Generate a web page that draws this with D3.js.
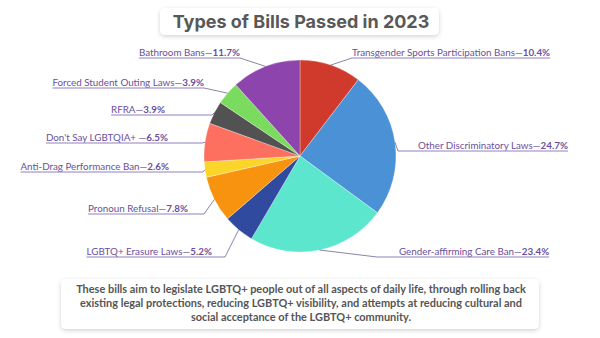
<!DOCTYPE html>
<html>
<head>
<meta charset="utf-8">
<script src="https://cdn.jsdelivr.net/npm/d3@7"></script>
<style>
  html, body { margin: 0; padding: 0; background: #fff; }
  svg { display: block; }
</style>
</head>
<body>
<svg id="chart" width="600" height="338"></svg>
<script>
// ---- data ----
const categories = [
  "Transgender Sports Participation Bans",
  "Other Discriminatory Laws",
  "Gender-affirming Care Ban",
  "LGBTQ+ Erasure Laws",
  "Pronoun Refusal",
  "Anti-Drag Performance Ban",
  "Don't Say LGBTQIA+ ",
  "RFRA",
  "Forced Student Outing Laws",
  "Bathroom Bans"
];
const values = [10.4, 24.7, 23.4, 5.2, 7.8, 2.6, 6.5, 3.9, 3.9, 11.7];
const colors = ["#cf3a2c", "#4a91d6", "#5be6cd", "#2f4a9f", "#f7930f", "#fcd52a", "#fd6f5f", "#525252", "#7adb5e", "#8e44ad"];
const title = "Types of Bills Passed in 2023";
const noteLines = [
  "These bills aim to legislate LGBTQ+ people out of all aspects of daily life, through rolling back",
  "existing legal protections, reducing LGBTQ+ visibility, and attempts at reducing cultural and",
  "social acceptance of the LGBTQ+ community."
];

// ---- label layout (elbow point and text anchor per label) ----
const labelLayout = [
  { side: "right", ex: 352, ey: 58,  tx: 352 },
  { side: "right", ex: 398, ey: 151, tx: 418 },
  { side: "right", ex: 377, ey: 257, tx: 399 },
  { side: "left",  ex: 225, ey: 257, tx: 212 },
  { side: "left",  ex: 204, ey: 214, tx: 188 },
  { side: "left",  ex: 203, ey: 172, tx: 169 },
  { side: "left",  ex: 202, ey: 143, tx: 168 },
  { side: "left",  ex: 212, ey: 115, tx: 165 },
  { side: "left",  ex: 204, ey: 88,  tx: 204 },
  { side: "left",  ex: 240, ey: 58,  tx: 240 }
];

const svg = d3.select("#chart");
const defs = svg.append("defs");
const f = defs.append("filter").attr("id", "shadow").attr("x", "-10%").attr("y", "-30%").attr("width", "120%").attr("height", "170%");
f.append("feDropShadow").attr("dx", 0).attr("dy", 1.5).attr("stdDeviation", 2).attr("flood-color", "#000").attr("flood-opacity", 0.18);

// ---- title ----
svg.append("rect").attr("x", 160).attr("y", 8).attr("width", 279).attr("height", 27).attr("rx", 5)
  .attr("fill", "#fff").attr("filter", "url(#shadow)");
svg.append("text").attr("x", 301).attr("y", 28).attr("text-anchor", "middle")
  .attr("font-family", "Inter, Roboto, sans-serif").attr("font-weight", 700).attr("font-size", 18)
  .attr("fill", "#585858").text(title);

// ---- pie ----
const cx = 300, cy = 156, r = 96;
const pie = d3.pie().sort(null).value(d => d)(values);
const arc = d3.arc().innerRadius(0).outerRadius(r);
const g = svg.append("g").attr("transform", `translate(${cx},${cy})`);
g.selectAll("path").data(pie).join("path")
  .attr("d", arc)
  .attr("fill", (d, i) => colors[i])
  .attr("stroke", "rgba(255,255,255,0.5)").attr("stroke-width", 0.6);

// ---- labels ----
const lab = svg.append("g");
pie.forEach((d, i) => {
  const L = labelLayout[i];
  const a = (d.startAngle + d.endAngle) / 2;
  const px = cx + r * Math.sin(a), py = cy - r * Math.cos(a);
  const t = lab.append("text")
    .attr("x", L.tx).attr("y", L.ey - 2.5)
    .attr("text-anchor", L.side === "right" ? "start" : "end")
    .attr("font-family", "Lato, sans-serif").attr("font-size", 9.8)
    .attr("fill", "#6a509c");
  t.append("tspan").text(categories[i] + "\u2014");
  t.append("tspan").attr("font-weight", 700).text(values[i].toFixed(1) + "%");
  const w = t.node().getComputedTextLength();
  const x0 = L.side === "right" ? L.ex : L.tx - w;
  const x1 = L.side === "right" ? L.tx + w : L.ex;
  lab.append("line").attr("x1", x0).attr("x2", x1).attr("y1", L.ey).attr("y2", L.ey)
    .attr("stroke", "#927fc2").attr("stroke-width", 1);
  lab.append("line").attr("x1", L.ex).attr("y1", L.ey).attr("x2", px).attr("y2", py)
    .attr("stroke", "#6f6490").attr("stroke-width", 0.8);
});

// ---- note box ----
svg.append("rect").attr("x", 61).attr("y", 279).attr("width", 478).attr("height", 50).attr("rx", 5)
  .attr("fill", "#fff").attr("filter", "url(#shadow)");
svg.append("g").selectAll("text").data(noteLines).join("text")
  .attr("x", 301).attr("y", (d, i) => 292.8 + i * 14.2)
  .attr("text-anchor", "middle")
  .attr("font-family", "Lato, sans-serif").attr("font-weight", 700).attr("font-size", 10.95)
  .attr("fill", "#555").text(d => d);
</script>
</body>
</html>
